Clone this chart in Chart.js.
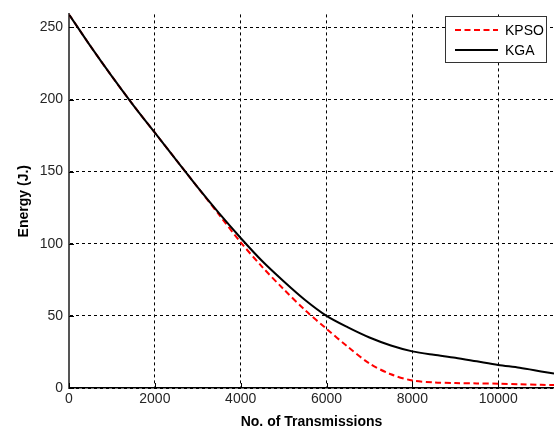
<!DOCTYPE html>
<html>
<head>
<meta charset="utf-8">
<script src="https://cdn.jsdelivr.net/npm/chart.js@4.4.1/dist/chart.umd.min.js"></script>
<style>
  html, body { margin: 0; padding: 0; background: #fff; }
  canvas { display: block; }
</style>
</head>
<body>
<canvas id="energyChart" width="554" height="431"></canvas>
<script>
// values
const transmissions = [0, 500, 1000, 1500, 2000, 2500, 3000, 3500, 4000, 4500, 5000, 5500,
    6000, 6500, 7000, 7500, 8000, 8500, 9000, 9500, 10000, 10500, 11000, 11300];
const kpsoEnergy = [259, 237, 216, 196, 177, 158, 139, 120, 101, 84, 68.5, 54,
    41, 28.5, 17, 9.5, 5.2, 3.9, 3.4, 3.2, 3, 2.6, 2.2, 2];
const kgaEnergy = [259, 237, 216, 196, 177, 158, 139, 121, 104, 88, 74, 61,
    50, 42, 35, 29.5, 25.4, 23, 21, 18.5, 16, 14, 11.5, 10];
const xTicks = [0, 2000, 4000, 6000, 8000, 10000];
const yTicks = [0, 50, 100, 150, 200, 250];

const FONT = "'Liberation Sans', Arial, sans-serif";
const toPoints = (ys) => transmissions.map((x, i) => ({ x: x, y: ys[i] }));

// MATLAB style inner tick marks
const innerTicks = {
    id: 'innerTicks',
    beforeDatasetsDraw(chart) {
        const { ctx, chartArea, scales } = chart;
        ctx.save();
        ctx.strokeStyle = '#000';
        ctx.lineWidth = 1;
        ctx.beginPath();
        xTicks.forEach(v => {
            const px = Math.round(scales.x.getPixelForValue(v)) + 0.5;
            ctx.moveTo(px, chartArea.bottom);
            ctx.lineTo(px, chartArea.bottom - 5);
        });
        yTicks.forEach(v => {
            const py = Math.round(scales.y.getPixelForValue(v)) + 0.5;
            ctx.moveTo(chartArea.left, py);
            ctx.lineTo(chartArea.left + 5, py);
        });
        ctx.stroke();
        ctx.restore();
    }
};

// boxed legend in the top right corner
const boxLegend = {
    id: 'boxLegend',
    afterDraw(chart) {
        const ctx = chart.ctx;
        const x0 = 445, y0 = 16, w = 101, h = 46;
        ctx.save();
        ctx.fillStyle = '#fff';
        ctx.fillRect(x0, y0, w, h);
        ctx.strokeStyle = '#333';
        ctx.lineWidth = 1;
        ctx.strokeRect(x0 + 0.5, y0 + 0.5, w, h);
        chart.data.datasets.forEach((ds, i) => {
            const ly = y0 + 14 + i * 20;
            ctx.strokeStyle = ds.borderColor;
            ctx.lineWidth = 2;
            ctx.setLineDash(ds.borderDash || []);
            ctx.beginPath();
            ctx.moveTo(x0 + 10, ly);
            ctx.lineTo(x0 + 53, ly);
            ctx.stroke();
            ctx.setLineDash([]);
            ctx.fillStyle = '#000';
            ctx.font = '14px ' + FONT;
            ctx.textBaseline = 'middle';
            ctx.fillText(ds.label, x0 + 60, ly + 1);
        });
        ctx.restore();
    }
};

new Chart(document.getElementById('energyChart'), {
    type: 'line',
    data: {
        datasets: [
            {
                label: 'KPSO',
                data: toPoints(kpsoEnergy),
                borderColor: '#ff0000',
                borderWidth: 2,
                borderDash: [6, 3.5],
                pointRadius: 0,
                tension: 0.3,
                fill: false,
                order: 2
            },
            {
                label: 'KGA',
                data: toPoints(kgaEnergy),
                borderColor: '#000000',
                borderWidth: 2,
                pointRadius: 0,
                tension: 0.3,
                fill: false,
                order: 1
            }
        ]
    },
    options: {
        responsive: false,
        animation: false,
        layout: { padding: { top: 8, right: 0, left: 0, bottom: 0 } },
        plugins: {
            legend: { display: false },
            tooltip: { enabled: false }
        },
        scales: {
            x: {
                type: 'linear',
                min: 0,
                max: 11300,
                afterBuildTicks: s => { s.ticks = xTicks.map(v => ({ value: v })); },
                afterFit: s => { s.height = 43; },
                ticks: {
                    color: '#262626', font: { family: FONT, size: 14 }, padding: 3, maxRotation: 0,
                    callback: v => String(v)
                },
                grid: { color: '#000', lineWidth: 1, drawTicks: false },
                border: { color: '#000', width: 1.5, dash: [3, 3] },
                title: {
                    display: true,
                    text: 'No. of Transmissions',
                    color: '#000',
                    font: { family: FONT, size: 14, weight: 'bold' },
                    padding: { top: 1, bottom: 0 }
                }
            },
            y: {
                min: 0,
                max: 259,
                afterBuildTicks: s => { s.ticks = yTicks.map(v => ({ value: v })); },
                afterFit: s => { s.width = 69; },
                ticks: {
                    color: '#262626', font: { family: FONT, size: 14 }, padding: 6,
                    callback: v => String(v)
                },
                grid: { color: '#000', lineWidth: 1, drawTicks: false },
                border: { color: '#555', width: 2, dash: [3, 3] },
                title: {
                    display: true,
                    text: 'Energy (J.)',
                    color: '#000',
                    font: { family: FONT, size: 14, weight: 'bold' },
                    padding: { top: 16, bottom: 6 }
                }
            }
        }
    },
    plugins: [innerTicks, boxLegend]
});
</script>
</body>
</html>
